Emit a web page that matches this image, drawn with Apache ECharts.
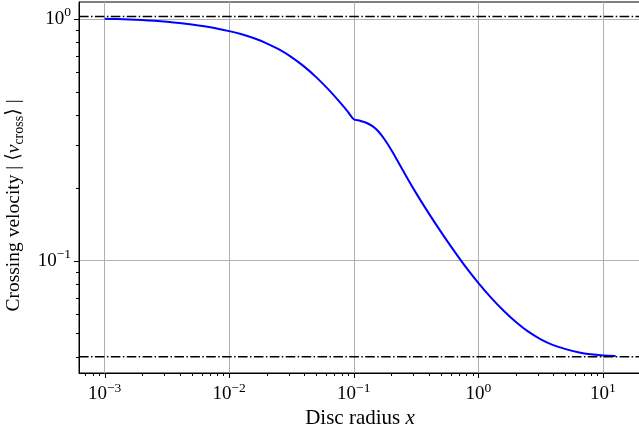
<!DOCTYPE html>
<html>
<head>
<meta charset="utf-8">
<title>Crossing velocity vs disc radius</title>
<script src="https://cdn.jsdelivr.net/npm/echarts@6/dist/echarts.min.js"></script>
<style>
  html, body { margin: 0; padding: 0; background: #fff; }
  #chart { width: 639px; height: 428px; }
</style>
</head>
<body>
<div id="chart"></div>
<script>
// Disc radius x and mean crossing velocity |<v_cross>|
const radius = [
  0.001, 0.001259, 0.001585, 0.001995, 0.002512, 0.003162, 0.003981, 0.005012,
  0.00631, 0.007943, 0.01, 0.01259, 0.01585, 0.01995, 0.02512, 0.03162,
  0.03981, 0.05012, 0.0631, 0.07943, 0.0891, 0.1,
  0.1123, 0.126, 0.1413, 0.1585, 0.178, 0.1997, 0.224, 0.2517,
  0.3165, 0.3988, 0.5026, 0.6321, 0.7965, 1.002, 1.263, 1.588, 2.001,
  2.517, 3.172, 3.988, 5.027, 6.321, 7.967, 10.02, 12.63
];
const crossingVelocity = [
  1.000, 0.9981, 0.9943, 0.9887, 0.9812, 0.9719, 0.9609, 0.9473,
  0.9312, 0.9119, 0.8897, 0.8629, 0.8308, 0.7922, 0.7469, 0.6949,
  0.6360, 0.5728, 0.5082, 0.4448, 0.4144, 0.3846,
  0.3789, 0.3717, 0.3599, 0.3412, 0.3156, 0.2876, 0.2593, 0.2329,
  0.1902, 0.1572, 0.1312, 0.1105, 0.09374, 0.08073, 0.07036, 0.06223, 0.05577,
  0.05085, 0.04727, 0.04473, 0.04306, 0.04181, 0.04099, 0.04056, 0.04037
];

// Limiting values (dash-dot reference lines)
const limitLevels = [1.022, 0.0400];

// Axis extents
const xRange = [6.23e-4, 20.2];
const yRange = [0.0343, 1.174];

// Tick positions
const xMajorTicks = [1e-3, 1e-2, 1e-1, 1, 10];
const yMajorTicks = [1e-1, 1];
const minorMultipliers = [2, 3, 4, 5, 6, 7, 8, 9];
const xDecades = [1e-4, 1e-3, 1e-2, 1e-1, 1, 10];
const yDecades = [1e-2, 1e-1, 1];

const FONT = '"Liberation Serif", "DejaVu Serif", serif';

function minorTicks(decades, range) {
  const out = [];
  decades.forEach(d => minorMultipliers.forEach(m => {
    const v = m * d;
    if (v > range[0] && v < range[1]) out.push(v);
  }));
  return out;
}

function powLabel(v) {
  const l = Math.log10(v);
  const e = Math.round(l);
  if (Math.abs(l - e) > 1e-6) return '';
  const s = e < 0 ? '\u2212' + (-e) : String(e);
  return '{b|10}{s|' + s + '}';
}

const labelRich = {
  b: { fontFamily: FONT, fontSize: 19, color: '#000', lineHeight: 26, verticalAlign: 'middle' },
  s: { fontFamily: FONT, fontSize: 13.5, color: '#000', lineHeight: 12, verticalAlign: 'top' }
};

// Tick marks drawn through the axis scales
function xTickSeries(values, len) {
  return {
    type: 'custom',
    silent: true,
    clip: false,
    z: 5,
    data: values.map(v => [v, yRange[0]]),
    encode: { x: 0, y: 1 },
    renderItem: function (params, api) {
      const p = api.coord([api.value(0), api.value(1)]);
      const cs = params.coordSys;
      const y0 = cs.y + cs.height;
      return {
        type: 'line',
        shape: { x1: Math.round(p[0]) + 0.5, y1: y0, x2: Math.round(p[0]) + 0.5, y2: y0 + len },
        style: { stroke: '#000', lineWidth: 1 }
      };
    }
  };
}

function yTickSeries(values, len) {
  return {
    type: 'custom',
    silent: true,
    clip: false,
    z: 5,
    data: values.map(v => [xRange[0], v]),
    encode: { x: 0, y: 1 },
    renderItem: function (params, api) {
      const p = api.coord([api.value(0), api.value(1)]);
      const cs = params.coordSys;
      const x0 = cs.x;
      return {
        type: 'line',
        shape: { x1: x0, y1: Math.round(p[1]) + 0.5, x2: x0 - len, y2: Math.round(p[1]) + 0.5 },
        style: { stroke: '#000', lineWidth: 1 }
      };
    }
  };
}

const chart = echarts.init(document.getElementById('chart'), null, { renderer: 'canvas' });

const dashDot = [9.6, 2.4, 1.5, 2.4];

const option = {
  animation: false,
  backgroundColor: '#fff',
  grid: {
    left: 79, right: -2, top: 2, bottom: 55,
    containLabel: false,
    outerBoundsMode: 'none',
    show: true, borderColor: '#000', borderWidth: 1, backgroundColor: 'transparent'
  },
  xAxis: {
    type: 'log',
    logBase: 10,
    min: xRange[0],
    max: xRange[1],
    name: '{n|Disc radius }{i|x}',
    nameLocation: 'middle',
    nameGap: 26,
    nameTextStyle: {
      rich: {
        n: { fontFamily: FONT, fontSize: 21, color: '#000' },
        i: { fontFamily: FONT, fontSize: 21, color: '#000', fontStyle: 'italic' }
      }
    },
    axisLine: { show: true, lineStyle: { color: '#000', width: 1 } },
    axisTick: { show: false },
    axisLabel: {
      margin: 8,
      showMinLabel: false,
      showMaxLabel: false,
      formatter: powLabel,
      rich: labelRich
    },
    splitLine: { show: true, showMinLine: false, showMaxLine: false, lineStyle: { color: '#b0b0b0', width: 1 } },
    minorTick: { show: false },
    minorSplitLine: { show: false }
  },
  yAxis: {
    type: 'log',
    logBase: 10,
    min: yRange[0],
    max: yRange[1],
    name: '{n|Crossing velocity | \u27e8}{i|v}{sub|cross}{n|\u27e9 |}',
    nameLocation: 'middle',
    nameRotate: 90,
    nameGap: 50,
    nameTextStyle: {
      padding: [0, 36, 0, 0],
      rich: {
        n: { fontFamily: FONT, fontSize: 19.5, color: '#000', lineHeight: 26, verticalAlign: 'middle' },
        i: { fontFamily: FONT, fontSize: 19.5, color: '#000', fontStyle: 'italic', lineHeight: 26, verticalAlign: 'middle' },
        sub: { fontFamily: FONT, fontSize: 14, color: '#000', lineHeight: 13, verticalAlign: 'bottom' }
      }
    },
    axisLine: { show: true, lineStyle: { color: '#000', width: 1 } },
    axisTick: { show: false },
    axisLabel: {
      margin: 8,
      showMinLabel: false,
      showMaxLabel: false,
      formatter: powLabel,
      rich: labelRich
    },
    splitLine: { show: true, showMinLine: false, showMaxLine: false, lineStyle: { color: '#b0b0b0', width: 1 } },
    minorTick: { show: false },
    minorSplitLine: { show: false }
  },
  series: [
    {
      name: 'crossing velocity',
      type: 'line',
      data: radius.map((x, i) => [x, crossingVelocity[i]]),
      showSymbol: false,
      smooth: 0.3,
      z: 3,
      lineStyle: { color: '#0000ff', width: 2 }
    },
    ...limitLevels.map(level => ({
      type: 'line',
      data: [[xRange[0], level], [xRange[1], level]],
      showSymbol: false,
      silent: true,
      z: 4,
      lineStyle: { color: '#000', width: 1.5, type: dashDot }
    })),
    xTickSeries(xMajorTicks, 5),
    xTickSeries(minorTicks(xDecades, xRange), 3),
    yTickSeries(yMajorTicks, 5),
    yTickSeries(minorTicks(yDecades, yRange), 3)
  ]
};

chart.setOption(option);
</script>
</body>
</html>
